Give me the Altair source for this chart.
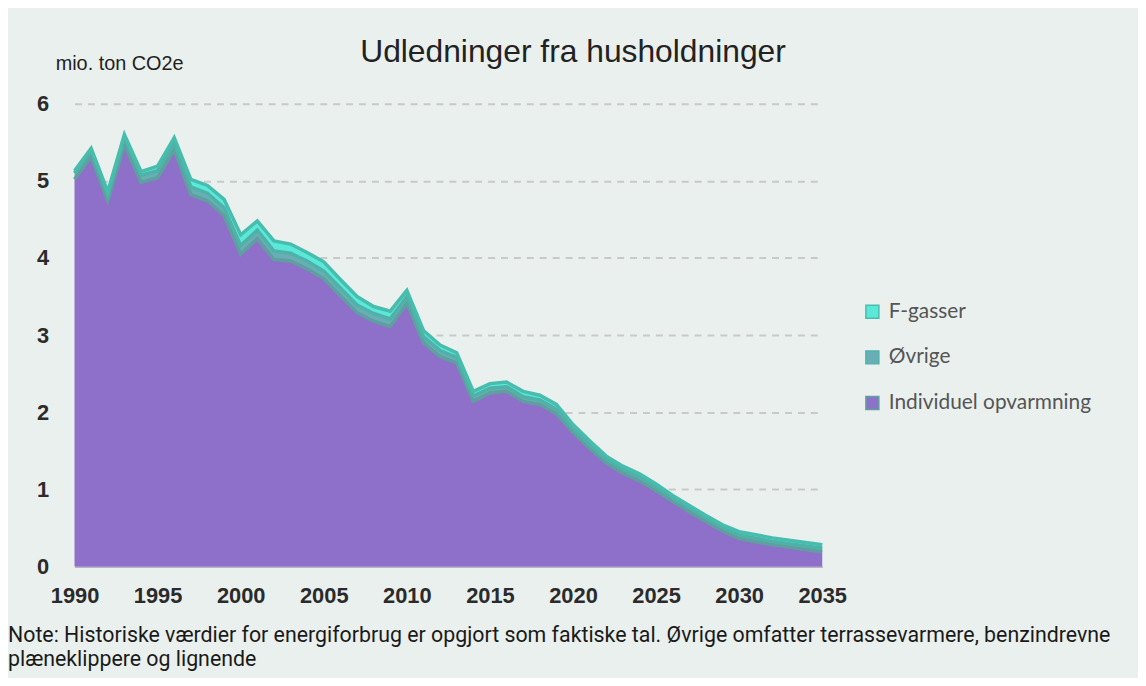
import altair as alt
import pandas as pd

years = list(range(1990, 2036))

individuel = [5.02, 5.31, 4.74, 5.47, 4.98, 5.04, 5.40, 4.82, 4.74, 4.55,
              4.05, 4.25, 3.98, 3.96, 3.86, 3.73, 3.51, 3.29, 3.18, 3.11,
              3.41, 2.90, 2.72, 2.64, 2.14, 2.25, 2.27, 2.14, 2.10, 1.98,
              1.74, 1.53, 1.34, 1.21, 1.11, 0.98, 0.84, 0.71, 0.58, 0.46,
              0.36, 0.32, 0.28, 0.25, 0.22, 0.19]
ovrige = [0.08, 0.08, 0.08, 0.09, 0.09, 0.09, 0.09, 0.10, 0.10, 0.10,
          0.11, 0.11, 0.11, 0.10, 0.10, 0.10, 0.10, 0.10, 0.10, 0.10,
          0.09, 0.08, 0.08, 0.07, 0.07, 0.06, 0.06, 0.06, 0.06, 0.06,
          0.05, 0.05, 0.05, 0.05, 0.05, 0.05, 0.05, 0.05, 0.05, 0.05,
          0.045, 0.045, 0.045, 0.045, 0.045, 0.045]
fgasser = [0.03, 0.03, 0.04, 0.04, 0.05, 0.06, 0.07, 0.10, 0.10, 0.11,
           0.14, 0.12, 0.13, 0.12, 0.11, 0.12, 0.11, 0.11, 0.09, 0.10,
           0.08, 0.08, 0.07, 0.06, 0.06, 0.06, 0.06, 0.07, 0.06, 0.06,
           0.05, 0.05, 0.04, 0.04, 0.04, 0.04, 0.03, 0.03, 0.03, 0.03,
           0.045, 0.045, 0.045, 0.045, 0.045, 0.045]

series_names = ["F-gasser", "Øvrige", "Individuel opvarmning"]
fill_colors = ["#5ae8d9", "#69aeb6", "#8e6fc9"]
line_colors = ["#47bdae", "#4fb2a8", "#5f9fa0"]

rows = []
for name, vals, ordr in [("Individuel opvarmning", individuel, 0),
                         ("Øvrige", ovrige, 1),
                         ("F-gasser", fgasser, 2)]:
    for y, v in zip(years, vals):
        rows.append({"year": y, "series": name, "value": v, "ord": ordr})
df = pd.DataFrame(rows)

FONT = "Liberation Sans"

x_enc = alt.X("year:Q",
              scale=alt.Scale(domain=[1990, 2035], nice=False, zero=False),
              axis=alt.Axis(values=list(range(1990, 2036, 5)), format="d",
                            labelFont=FONT, labelFontSize=22, labelFontWeight="bold",
                            labelColor="#2b2b2b", labelPadding=19, ticks=False,
                            domainColor="#b8b2c6", domainWidth=2, grid=False,
                            title=None, labelFlush=False))
y_scale = alt.Scale(domain=[0, 6], nice=False)

areas = alt.Chart(df).mark_area(opacity=1).encode(
    x=x_enc,
    y=alt.Y("value:Q", stack="zero", scale=y_scale,
            axis=alt.Axis(values=[0, 1, 2, 3, 4, 5, 6], format="d", labelFont=FONT,
                          labelFontSize=22, labelFontWeight="bold",
                          labelColor="#2b2b2b", labelPadding=26, ticks=False,
                          domain=False, grid=True, gridColor="#c9c9c9",
                          gridWidth=2, gridDash=[7, 6], title=None)),
    color=alt.Color("series:N",
                    scale=alt.Scale(domain=series_names, range=fill_colors),
                    legend=alt.Legend(title=None, orient="none", legendX=793,
                                      legendY=199, symbolType="square",
                                      symbolSize=170, symbolStrokeWidth=1.5,
                                      symbolStrokeColor="#4aaaa5",
                                      labelFont="Lato", labelFontSize=21,
                                      labelColor="#555555", rowPadding=24,
                                      labelOffset=6, padding=0, labelLimit=0)),
    order=alt.Order("ord:Q"),
)

lines = alt.Chart(df).mark_line(strokeWidth=3.5).encode(
    x=alt.X("year:Q", scale=alt.Scale(domain=[1990, 2035], nice=False, zero=False)),
    y=alt.Y("value:Q", stack="zero", scale=y_scale),
    stroke=alt.Stroke("series:N",
                      scale=alt.Scale(domain=series_names, range=line_colors),
                      legend=None),
    order=alt.Order("ord:Q"),
    detail="series:N",
)

title_txt = alt.Chart(pd.DataFrame({"t": ["Udledninger fra husholdninger"]})).mark_text(
    font=FONT, fontSize=32, color="#222222", align="center", baseline="middle"
).encode(text="t:N", x=alt.value(502), y=alt.value(-52))

unit_txt = alt.Chart(pd.DataFrame({"t": ["mio. ton CO2e"]})).mark_text(
    font=FONT, fontSize=20, color="#222222", align="left", baseline="middle"
).encode(text="t:N", x=alt.value(-19), y=alt.value(-40))

note_lines = ["Note: Historiske værdier for energiforbrug er opgjort som faktiske tal. Øvrige omfatter terrassevarmere, benzindrevne",
              "plæneklippere og lignende"]
note = alt.Chart(pd.DataFrame({"k": [0]})).mark_text(
    font="Roboto", fontSize=21.5, color="#1a1a1a", align="left", baseline="top",
    lineHeight=24, text=note_lines
).encode(x=alt.value(-67), y=alt.value(525))

chart = alt.layer(areas, lines, title_txt, unit_txt, note).properties(
    width=753, height=466,
    background="#eaf0ee",
    padding={"left": 67, "top": 94, "right": 318, "bottom": 110},
    autosize=alt.AutoSizeParams(type="none"),
).configure_view(stroke=None)

chart.save("out.html", embed_options={"renderer": "svg", "actions": False})
